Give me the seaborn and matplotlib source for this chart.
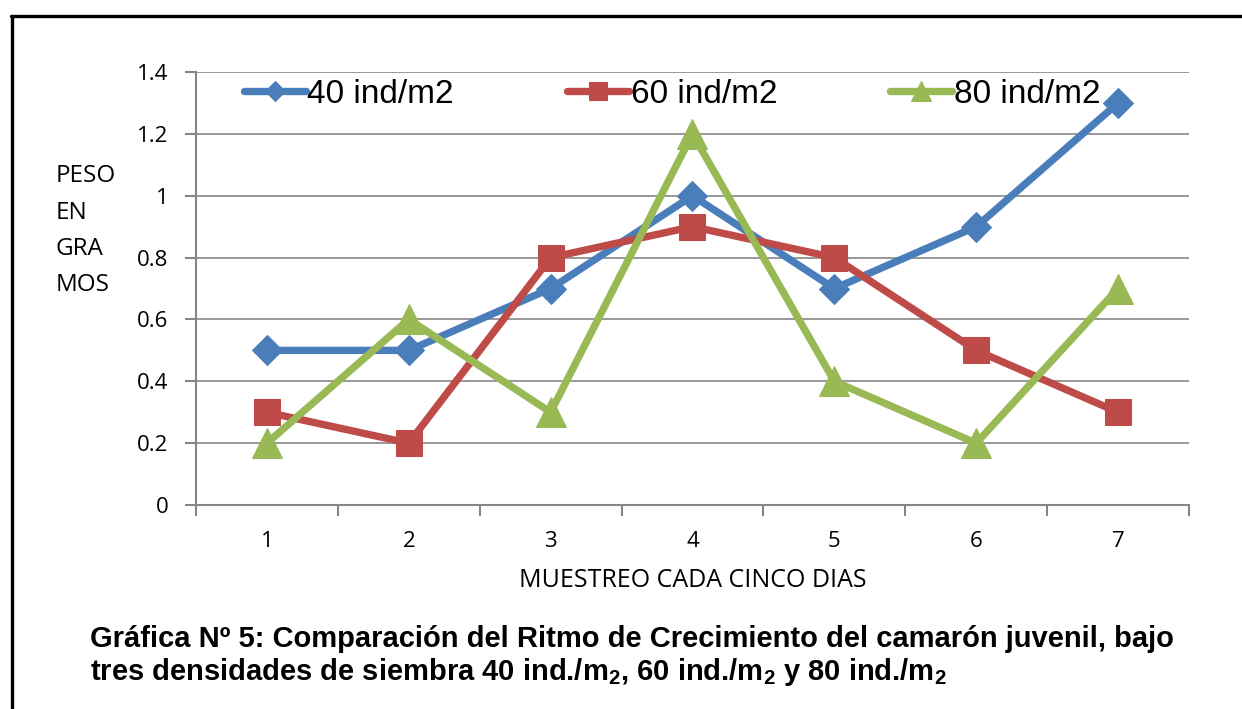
import matplotlib
matplotlib.use("Agg")
import matplotlib.pyplot as plt
from matplotlib.lines import Line2D
import seaborn as sns
import pandas as pd

# Sampling points (every five days) and mean weight in grams per stocking density
muestreos = [1, 2, 3, 4, 5, 6, 7]
peso_40 = [0.5, 0.5, 0.7, 1.0, 0.7, 0.9, 1.3]
peso_60 = [0.3, 0.2, 0.8, 0.9, 0.8, 0.5, 0.3]
peso_80 = [0.2, 0.6, 0.3, 1.2, 0.4, 0.2, 0.7]
series_labels = ["40 ind/m2", "60 ind/m2", "80 ind/m2"]
y_ticks = [0, 0.2, 0.4, 0.6, 0.8, 1, 1.2, 1.4]

sns.set_theme(style="white")
plt.rcParams["font.family"] = ["Open Sans", "DejaVu Sans"]
for key in ["text.color", "axes.labelcolor"]:
    plt.rcParams[key] = "black"
plt.rcParams["mathtext.fontset"] = "custom"
plt.rcParams["mathtext.rm"] = "Liberation Sans:bold"
plt.rcParams["mathtext.it"] = "Liberation Sans:bold"
plt.rcParams["mathtext.bf"] = "Liberation Sans:bold"

fig = plt.figure(figsize=(12.42, 7.09), dpi=100)
ax = fig.add_axes([0.1578, 0.2877, 0.7995, 0.6107])

styles = [
    dict(color="#4A7EBB", marker="D", markersize=15.5),
    dict(color="#BE4B48", marker="s", markersize=19),
    dict(color="#98B954", marker="^", markersize=22),
]

pos = list(range(len(muestreos)))
for vals, lab, st in zip([peso_40, peso_60, peso_80], series_labels, styles):
    df = pd.DataFrame({"x": pos, "peso": vals})
    sns.lineplot(data=df, x="x", y="peso", ax=ax, color=st["color"],
                 marker=st["marker"], markersize=st["markersize"],
                 markeredgecolor=st["color"], linewidth=5.3, label=lab,
                 solid_capstyle="round", solid_joinstyle="round", zorder=3)

grid_c = "#868686"
ax.set_xlim(-0.5, len(muestreos) - 0.5)
ax.set_ylim(0, 1.4)
ax.set_yticks(y_ticks)
ax.set_yticklabels([f"{v:g}" for v in y_ticks], fontsize=16)
ax.set_xticks(pos)
ax.set_xticklabels([str(m) for m in muestreos], fontsize=16)
ax.set_xticks([p - 0.5 for p in pos] + [pos[-1] + 0.5], minor=True)
ax.tick_params(axis="x", which="major", length=0, pad=19, labelcolor="black")
ax.tick_params(axis="x", which="minor", length=8, width=1.5, color=grid_c,
               direction="out", bottom=True)
ax.tick_params(axis="y", length=8, width=1.5, color=grid_c, direction="out",
               left=True, pad=12, labelcolor="black")
ax.yaxis.grid(True, color=grid_c, linewidth=1.2)
ax.xaxis.grid(False)
for side in ["top", "right"]:
    ax.spines[side].set_visible(False)
for side in ["left", "bottom"]:
    ax.spines[side].set_color(grid_c)
    ax.spines[side].set_linewidth(1.5)

ax.set_xlabel("MUESTREO CADA CINCO DIAS", fontsize=18, labelpad=11)
ax.set_ylabel("")
fig.text(0.045, 0.768, "PESO\nEN\nGRA\nMOS", fontsize=17.5, ha="left", va="top",
         linespacing=1.68)

leg = ax.legend(loc="upper left", bbox_to_anchor=(0.035, 1.015), ncol=3, frameon=False,
                prop={"family": "Liberation Sans", "size": 24}, handlelength=1.85,
                handletextpad=0.05, columnspacing=3.4, borderaxespad=0,
                markerscale=0.65)

fig.text(0.0725, 0.118,
         "Gráfica Nº 5: Comparación del Ritmo de Crecimiento del camarón juvenil, bajo\n"
         r"tres densidades de siembra 40 ind./m$_2$, 60 ind./m$_2$ y 80 ind./m$_2$",
         fontsize=21, fontweight="bold", family="Liberation Sans", ha="left", va="top",
         linespacing=1.1)

# Outer frame: left and top rules
fig.add_artist(Line2D([0.0097, 0.0097], [0.0, 0.978], color="black", linewidth=2.4,
                      transform=fig.transFigure))
fig.add_artist(Line2D([0.0085, 1.0], [0.978, 0.978], color="black", linewidth=2.4,
                      transform=fig.transFigure))

fig.savefig("out.png", dpi=100)
